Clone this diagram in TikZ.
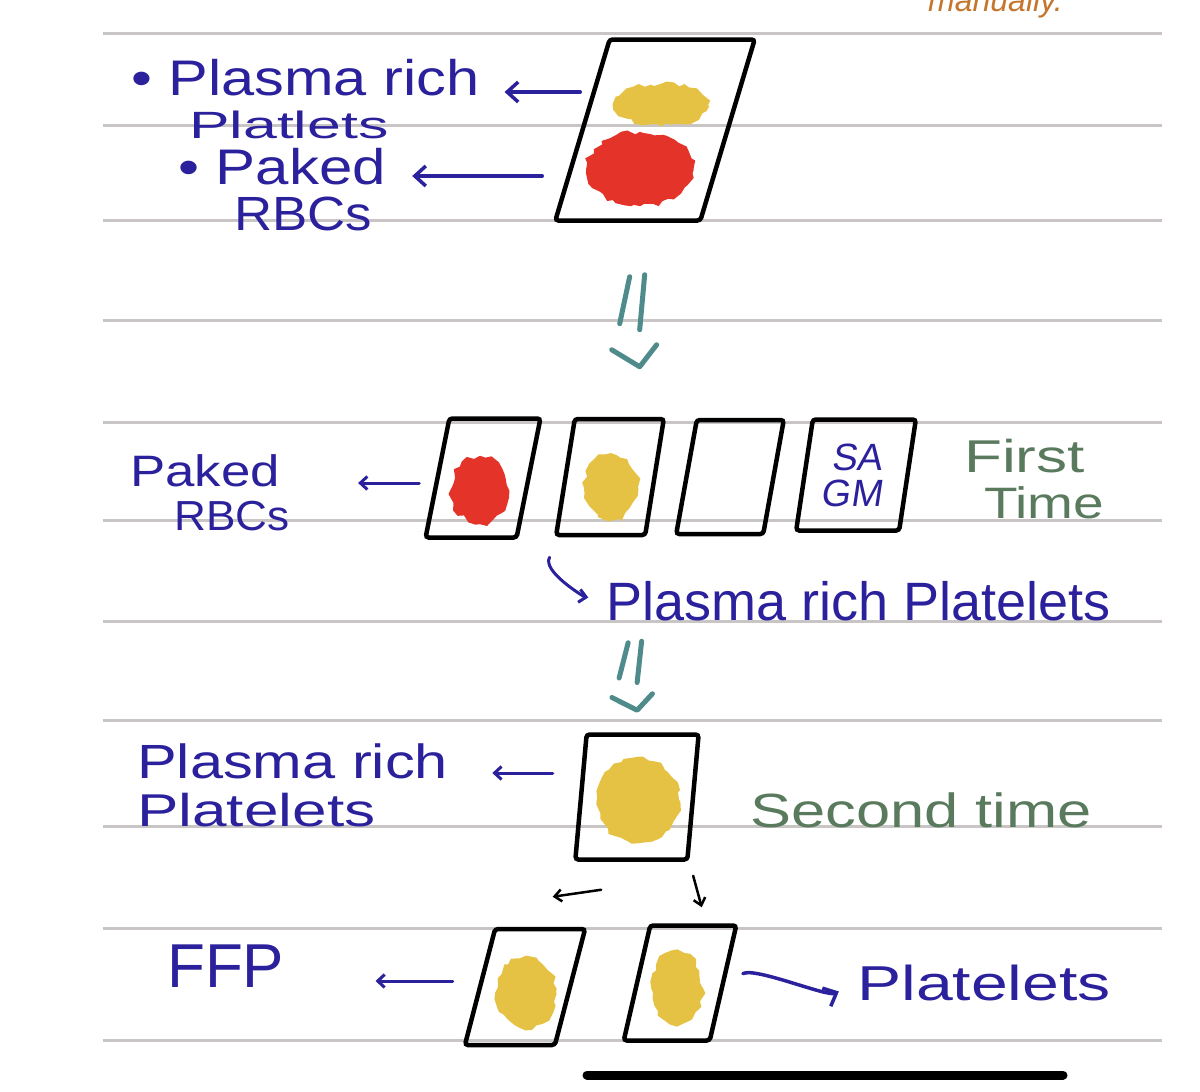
\documentclass[tikz,border=0pt]{standalone}
\usepackage{fontspec}
\setmainfont{Liberation Sans}
\usepackage{graphicx}
\usepackage{tikz}
\usetikzlibrary{arrows.meta,shapes.geometric,decorations.pathmorphing}
\definecolor{inkblue}{HTML}{2C219C}
\definecolor{inkteal}{HTML}{4F8B8B}
\definecolor{inkgreen}{HTML}{5A7A5E}
\definecolor{inkorange}{HTML}{C4762C}
\definecolor{ruleline}{HTML}{C9C5C5}
\definecolor{rbcred}{HTML}{E4342A}
\definecolor{prpyellow}{HTML}{E6C244}
\newcommand{\inkfont}[2]{\fontsize{#1}{#2}\selectfont}
\newcommand{\stretchx}[2]{\scalebox{#1}[1]{#2}}

\begin{document}
\begin{tikzpicture}[x=1pt, y=-1pt,
    bag/.style={rectangle, draw=black, line width=4.5pt, rounded corners=3pt, inner sep=0pt, xslant=#1},
    blob/.style={ellipse, fill=#1, draw=#1, line width=2pt, inner sep=0pt,
        decorate, decoration={random steps, segment length=6pt, amplitude=2.5pt}},
    ink/.style={text=inkblue, inner sep=0pt, anchor=base west},
    inkg/.style={ink, text=inkgreen},
    inkarrow/.style={draw=inkblue, line width=3.5pt, line cap=round, -{Straight Barb[length=11pt,width=20pt]}},
    inksmall/.style={inkarrow, line width=3pt, -{Straight Barb[length=7pt,width=13pt]}},
    penarrow/.style={draw=black, line width=2.5pt, line cap=round, -{Straight Barb[length=7pt,width=12pt]}},
    tealstroke/.style={draw=inkteal, line width=5pt, line cap=round, line join=round},
    thenmark/.pic={
        \draw[tealstroke] (-3,2) -- (-13,49);
        \draw[tealstroke] (12,0) -- (7,55);
        \draw[tealstroke] (-21,75) -- (7,92) -- (24,70);
    }
]
\useasboundingbox (0,0) rectangle (1200,1092);
\clip (0,0) rectangle (1200,1092);
\fill[white] (0,0) rectangle (1200,1092);

% ruled paper
\foreach \ry in {33,125,220,320,422,520,621,720,826,928,1040}
    \draw[ruleline, line width=3pt] (103,\ry) -- (1162,\ry);
\node[text=inkorange, inner sep=0pt, font=\inkfont{32}{32}\itshape, anchor=base west] (note) at (928,12) {manually.};

% ---- whole blood bag ----
\node[bag=0.3, minimum width=145, minimum height=181] (bag1) at (655,130) {};
\node[blob=prpyellow, minimum width=92, minimum height=40] (y1) at (661,105) {};
\node[blob=rbcred, minimum width=105, minimum height=72] (r1) at (640,169) {};
\node[ink, font=\inkfont{50}{50}] (prp1) at (131,95) {\stretchx{1.19}{\textbullet\ Plasma rich}};
\node[ink, font=\inkfont{38}{38}] (prp1b) at (189,138) {\stretchx{1.6}{Platlets}};
\node[ink, font=\inkfont{50}{50}] (prbc1) at (178,184) {\stretchx{1.2}{\textbullet\ Paked}};
\node[ink, font=\inkfont{48}{48}] (prbc1b) at (234,230) {\stretchx{1.1}{RBCs}};
\coordinate (tail1) at ([yshift=38]bag1.west);
\coordinate (tail2) at ([yshift=-46]bag1.west);
\draw[inkarrow, shorten >=25] (tail1) -- (tail1 -| prp1.east);
\draw[inkarrow, shorten <=38, shorten >=26] (tail2) -- (tail2 -| prbc1.east);

\pic at ([xshift=5.5,yshift=-52]bag1.south) {thenmark};

% ---- first spin ----
\node[bag=0.2, minimum width=91, minimum height=119] (bagA) at (483,478) {};
\node[bag=0.16, minimum width=89, minimum height=116] (bagB) at (610,477) {};
\node[bag=0.18, minimum width=87, minimum height=114] (bagC) at (730,477) {};
\node[bag=0.15, minimum width=103, minimum height=111, text=inkblue, font=\inkfont{38}{36}, align=center] (bagD) at (856,475) {SA\\GM};
\node[blob=rbcred, minimum width=56, minimum height=65] (r2) at (480,490) {};
\node[blob=prpyellow, minimum width=52, minimum height=65] (y2) at (611,487) {};
\node[ink, font=\inkfont{44}{44}] (prbc2) at (130,486) {\stretchx{1.2}{Paked}};
\node[ink, font=\inkfont{42}{42}] (prbc2b) at (174,530) {\stretchx{1.05}{RBCs}};
\node[inkg, font=\inkfont{46}{46}] (first) at (964,472) {\stretchx{1.35}{First}};
\node[inkg, font=\inkfont{44}{44}] (firstb) at (984,518) {\stretchx{1.25}{Time}};
\node[ink, font=\inkfont{54}{54}] (prp2) at (606,620) {Plasma rich Platelets};
\coordinate (tail3) at ([yshift=-5]bagA.west);
\coordinate (tail4) at ([xshift=-4,yshift=-20]bagB.south west);
\draw[inksmall, shorten <=16, shorten >=78] (tail3) -- (tail3 -| prbc2.east);
\draw[inksmall, shorten >=18] (tail4) .. controls +(-8,14) and +(-22,-4) .. (prp2.west);

% ---- second spin ----
\node[bag=0.09, minimum width=112, minimum height=125] (bag3) at (637,797) {};
\node[blob=prpyellow, minimum width=80, minimum height=84] (y3) at (638,800) {};
\node[ink, font=\inkfont{48}{48}] (prp3) at (137,778) {\stretchx{1.24}{Plasma rich}};
\node[ink, font=\inkfont{46}{46}] (prp3b) at (137,826) {\stretchx{1.35}{Platelets}};
\node[inkg, font=\inkfont{48}{48}] (second) at (750,827) {\stretchx{1.28}{Second time}};
\coordinate (tail5) at ([yshift=24]bag3.west);
\draw[inksmall, shorten <=26, shorten >=44] (tail5) -- (tail5 -| prp3.east);

\pic[xscale=0.9, yscale=0.75] at ([xshift=-12,yshift=91]bag3.north) {thenmark};

% ---- split ----
\node[bag=0.26, minimum width=90, minimum height=116] (bag4L) at (525,987) {};
\node[bag=0.23, minimum width=86, minimum height=115] (bag4R) at (680,983) {};
\node[blob=prpyellow, minimum width=58, minimum height=70] (y4) at (526,993) {};
\node[blob=prpyellow, minimum width=49, minimum height=73] (y5) at (677,988) {};
\node[ink, font=\inkfont{62}{62}] (ffp) at (167,987) {FFP};
\node[ink, font=\inkfont{49}{49}] (plt) at (857,1000) {\stretchx{1.35}{Platelets}};
\draw[penarrow] ([xshift=-30,yshift=-28]bag3.south) -- ([xshift=12,yshift=30]bag4L.north);
\draw[penarrow] ([xshift=62,yshift=-14]bag3.south) -- ([xshift=8,yshift=16]bag4R.north);
\coordinate (tail8) at ([yshift=6]bag4L.west);
\draw[inksmall, shorten <=25, shorten >=91] (tail8) -- (tail8 -| ffp.east);
\draw[inkarrow, shorten <=20, shorten >=20] (bag4R.east) .. controls +(30,-16) and +(-30,14) .. (bag4R.east -| plt.west);

\draw[line width=9pt, line cap=round] (587,1075) -- (1063,1075);
\end{tikzpicture}
\end{document}
